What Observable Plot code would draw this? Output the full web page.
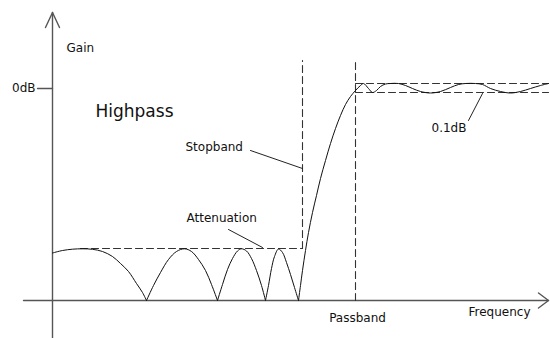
<!DOCTYPE html>
<html>
<head>
<meta charset="utf-8">
<script src="https://cdn.jsdelivr.net/npm/d3@7"></script>
<script src="https://cdn.jsdelivr.net/npm/@observablehq/plot@0.6"></script>
<style>
  html, body { margin: 0; padding: 0; background: #fff; }
  svg { display: block; }
</style>
</head>
<body>
<div id="chart"></div>
<script>
// Units: f = frequency (arbitrary, 0 at gain axis), g = gain (arbitrary, 0 at frequency axis, 212 = 0dB)
const lobe1 = [[0,47.5],[10,50],[20,51.3],[30,51.7],[40,51.2],[50,49],[60,44],[68,37],[76,29],[84,17],[90,8],[94,0]];
const lobe2 = [[94,0],[101,15],[108,28],[116,41],[124,49],[132,51.7],[139,49],[146,41],[153,30],[159,16],[165,0]];
const lobe3 = [[165,0],[170,16],[175,31],[180,42],[185,49.5],[189,51.7],[194,49.5],[199,42],[204,30],[209,15],[213,0]];
const lobe4 = [[213,0],[216,15],[219,32],[222,44],[226,51.5],[230,48],[234,38],[238,26],[242,13],[246,0]];
const passCurve = [[246,0],[248,15],[250,30],[253,50],[256,68],[260,88],[264,105],[268,122],[273,140],[278,157],[283,172],[288,185],[293,196],[298,204],[303,210],[308,215],[311,217],[316,212],[320,208],[324,210],[328,214],[333,216.5],[338,217],[346,217],[353,215],[360,212],[368,209],[378,207.5],[388,209],[398,213],[406,216],[413,217],[423,217],[430,216],[438,212],[448,209],[458,207.5],[468,209],[478,212],[488,215],[496,217]];

const gain0dB = 212;
const attenuation = 52;
const rippleTop = 217;
const rippleBottom = 208;
const stopbandF = 250;
const passbandF = 303;
const fMax = 496;
const gTop = 288;

const axisLines = [
  {s:"h", pts:[[-29,0],[fMax,0]]},
  {s:"v", pts:[[0,-38],[0,gTop]]},
  {s:"ah", pts:[[-7,273],[0,gTop],[7,273]]},
  {s:"ar", pts:[[486,7.5],[fMax,0],[486,-7.5]]},
  {s:"tick", pts:[[-15,gain0dB],[0,gain0dB]]}
];
const dashedLines = [
  {s:"stop", pts:[[stopbandF,attenuation],[stopbandF,240]]},
  {s:"pass", pts:[[passbandF,0],[passbandF,240]]},
  {s:"att", pts:[[28,attenuation],[stopbandF,attenuation]]},
  {s:"rt", pts:[[passbandF,rippleTop],[fMax,rippleTop]]},
  {s:"rb", pts:[[passbandF,rippleBottom],[fMax,rippleBottom]]}
];
const leaders = [
  {s:"stop", pts:[[198,150],[250,132]]},
  {s:"att", pts:[[176,71],[210,53]]},
  {s:"ripple", pts:[[416,180],[430,207]]}
];
const labels = [
  {t:"Gain", f:14, g:252, a:"start", size:12},
  {t:"0dB", f:-17, g:gain0dB, a:"end", size:12},
  {t:"Highpass", f:43, g:189, a:"start", size:17},
  {t:"Stopband", f:133, g:153, a:"start", size:12},
  {t:"Attenuation", f:134, g:82, a:"start", size:12},
  {t:"0.1dB", f:379, g:172, a:"start", size:12},
  {t:"Passband", f:305, g:-18, a:"middle", size:12},
  {t:"Frequency", f:416, g:-12, a:"start", size:12}
];

const flat = (groups) => groups.flatMap(d => d.pts.map(([f,g]) => ({s:d.s, f, g})));
const curves = flat([
  {s:"l1", pts:lobe1},{s:"l2", pts:lobe2},{s:"l3", pts:lobe3},{s:"l4", pts:lobe4},{s:"p", pts:passCurve}
]);

const chart = Plot.plot({
  width: 550,
  height: 338,
  margin: 0,
  x: {domain: [-52, 498], axis: null},
  y: {domain: [-38, 300], axis: null},
  style: {background: "#fff"},
  marks: [
    Plot.line(flat(axisLines), {x:"f", y:"g", z:"s", stroke:"#555", strokeWidth:1.4}),
    Plot.line(flat(dashedLines), {x:"f", y:"g", z:"s", stroke:"#333", strokeWidth:1.1, strokeDasharray:"7,4"}),
    Plot.line(flat(leaders), {x:"f", y:"g", z:"s", stroke:"#222", strokeWidth:1}),
    Plot.line(curves, {x:"f", y:"g", z:"s", stroke:"#111", strokeWidth:1, curve:"catmull-rom"}),
    ...["start","middle","end"].map(a => Plot.text(labels.filter(d => d.a === a && d.size === 12), {
      x:"f", y:"g", text:"t", textAnchor:a, fontSize:12, fontFamily:"DejaVu Sans", fill:"#111"
    })),
    Plot.text(labels.filter(d => d.size === 17), {
      x:"f", y:"g", text:"t", textAnchor:"start", fontSize:17, fontFamily:"DejaVu Sans", fill:"#111"
    })
  ]
});
document.getElementById("chart").appendChild(chart);
</script>
</body>
</html>
